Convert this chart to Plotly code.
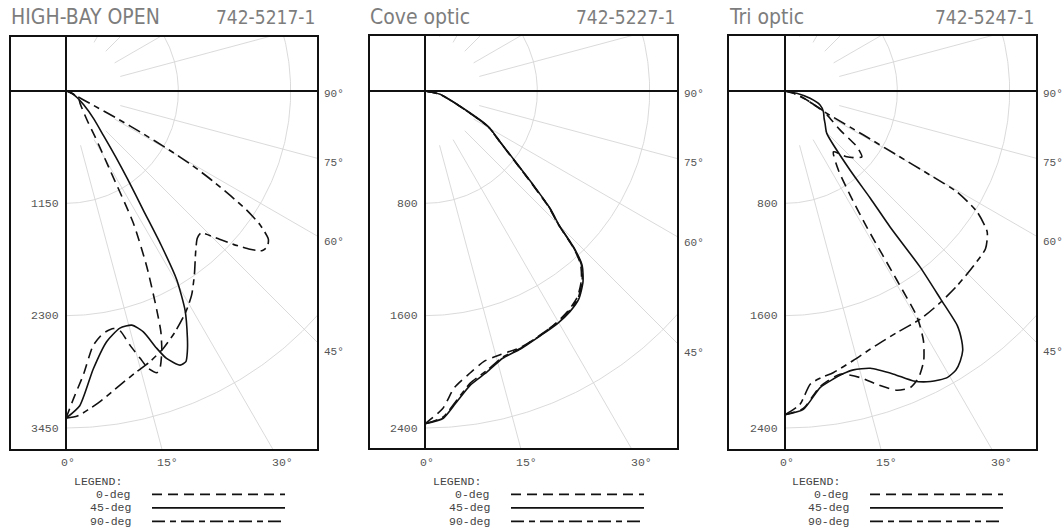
import numpy as np
import plotly.graph_objects as go

W, H = 1064, 529

# ------------------------------------------------------------------ data
# Panel 1 : HIGH-BAY OPEN 742-5217-1  (candela vs vertical angle, deg)
HB_RINGS = [1150, 2300, 3450]
HB_0_ANG = [0, 1.4, 3.5, 6.1, 8.75, 11.3, 12.7, 14.1, 15.5, 16.5, 17.9, 18.7, 20.2, 21.5,
            22.5, 24.7, 27.0, 29.1, 32.4, 35.9, 42.0, 48.7, 55, 65, 75, 90]
HB_0_CD = [3350, 3150, 2910, 2620, 2510, 2480, 2515, 2680, 2840, 2960, 3030, 3000, 2840, 2650,
           2430, 1980, 1520, 926, 554, 367, 250, 191, 165, 100, 40, 0]
HB_45_ANG = [0, 2.5, 5.6, 9.2, 12.8, 15.7, 17.8, 19.4, 20.6, 22.6, 23.9, 25.0, 26.2, 28.5,
             30.4, 31.7, 33.0, 35.0, 37.0, 40.0, 45.0, 52.0, 62.0, 72.0, 90.0]
HB_45_CD = [3350, 3225, 2860, 2600, 2490, 2490, 2590, 2790, 2925, 3040, 3030, 2940, 2815, 2555,
            2240, 1850, 1450, 1100, 850, 600, 400, 230, 110, 40, 0]
HB_90_ANG = [0, 2, 4, 6.5, 10.4, 14.1, 17.2, 20.7, 24.4, 28.5, 31.6, 34.9, 38.9, 41.7, 43.5,
             45.7, 47.5, 49.3, 50.8, 52.3, 53.8, 55.4, 56.6, 57.5, 58.5, 59.5, 60.3, 61.0,
             61.7, 62.5, 64, 70, 80, 90]
HB_90_CD = [3350, 3330, 3270, 3190, 3061, 2964, 2902, 2817, 2706, 2572, 2454, 2297, 2114, 2020,
            2005, 2158, 2324, 2484, 2587, 2606, 2567, 2415, 2216, 2000, 1760, 1500, 1200, 900,
            600, 300, 140, 50, 15, 0]

# Panel 2 : Cove optic 742-5227-1
CV_RINGS = [800, 1600, 2400]
CV_ANG = [0, 3.2, 5.6, 8.8, 12.4, 16.2, 20.3, 25.2, 29.5, 33.3, 36.5, 39.6, 42, 43.5, 45,
          46.8, 49, 51.7, 55.9, 60.6, 67.7, 77.7, 90]
CV_0_CD = [2370, 2265, 2125, 2040, 1970, 1952, 1950, 1925, 1898, 1866, 1825, 1748, 1655, 1530,
           1338, 1212, 1012, 825, 640, 512, 236, 106, 0]
CV_45_CD = [2370, 2334, 2235, 2118, 2050, 1982, 1959, 1927, 1907, 1880, 1842, 1765, 1673, 1545,
            1350, 1224, 1024, 834, 647, 519, 240, 110, 0]
CV_90_CD = [2370, 2325, 2225, 2105, 2040, 1975, 1955, 1922, 1902, 1873, 1834, 1756, 1664, 1538,
            1344, 1218, 1018, 830, 643, 515, 238, 108, 0]

# Panel 3 : Tri optic 742-5247-1
TR_RINGS = [800, 1600, 2400]
TR_0_ANG = [0, 3.3, 6.75, 11.0, 14.7, 17.4, 20.5, 22.9, 25.0, 27.2, 29.0, 30.3, 30.6, 31.0,
            32.0, 34.0, 38.5, 43.2, 46.5, 49.4, 52.2, 54.7, 58, 62, 66, 72, 80, 90]
TR_0_CD = [2305, 2265, 2120, 2055, 2110, 2189, 2275, 2293, 2252, 2161, 2034, 1866, 1568, 1131,
           880, 681, 554, 643, 690, 721, 649, 482, 390, 320, 200, 110, 45, 0]
TR_45_ANG = [0, 3.3, 6.75, 9.5, 11.7, 13.8, 17.1, 21.0, 23.9, 26.6, 29.5, 31.5, 33.0, 34.4,
             35.3, 36.3, 36.8, 37.5, 37.7, 38.5, 39.4, 44.6, 51, 55, 61.6, 68.2, 73.7, 78.9, 90]
TR_45_CD = [2305, 2271, 2127, 2080, 2055, 2045, 2066, 2160, 2259, 2314, 2345, 2330, 2292, 2240,
            2178, 2073, 1853, 1583, 1226, 976, 731, 424, 367, 340, 311, 269, 186, 85, 0]
TR_90_ANG = [0, 2.75, 4.9, 7.0, 9.8, 14.2, 19.5, 24.9, 30.7, 36.3, 41.5, 47.3, 51.8, 55.1,
             57.8, 59.6, 59.9, 60.2, 60.7, 61.9, 67.5, 74.5, 90]
TR_90_CD = [2305, 2234, 2096, 2060, 2034, 1980, 1925, 1896, 1889, 1869, 1851, 1831, 1817, 1756,
            1618, 1422, 1197, 919, 641, 338, 168, 62, 0]

ANGLE_TICKS_BOTTOM = [0, 15, 30]
ANGLE_TICKS_RIGHT = [90, 75, 60, 45]
LEGEND_LABELS = ["0-deg", "45-deg", "90-deg"]

# ------------------------------------------------------------------ styles
DASH = {"0-deg": "10px,6px", "45-deg": "solid", "90-deg": "13px,5px,6px,5px"}
GRID_COLOR = "#d6d6d6"
INK = "#111111"
MONO = "Liberation Mono, DejaVu Sans Mono, monospace"
TITLE_FONT = "Liberation Sans Narrow, DejaVu Sans Condensed, Arial Narrow, sans-serif"
TITLE_COLOR = "#7d7d7d"
TICK_COLOR = "#555555"
RING_PX = 337.0

PANELS = [
    dict(title="HIGH-BAY OPEN", code="742-5217-1", rings=HB_RINGS,
         frame=(10, 36, 318, 450), origin=(66, 91),
         series=[("0-deg", HB_0_ANG, HB_0_CD), ("45-deg", HB_45_ANG, HB_45_CD),
                 ("90-deg", HB_90_ANG, HB_90_CD)]),
    dict(title="Cove optic", code="742-5227-1", rings=CV_RINGS,
         frame=(369, 35, 678, 449), origin=(425, 91),
         series=[("0-deg", CV_ANG, CV_0_CD), ("45-deg", CV_ANG, CV_45_CD),
                 ("90-deg", CV_ANG, CV_90_CD)]),
    dict(title="Tri optic", code="742-5247-1", rings=TR_RINGS,
         frame=(728, 35, 1037, 450), origin=(785, 91),
         series=[("0-deg", TR_0_ANG, TR_0_CD), ("45-deg", TR_45_ANG, TR_45_CD),
                 ("90-deg", TR_90_ANG, TR_90_CD)]),
]


def px(x):
    return x / W


def py(y):
    return 1 - y / H


def polar_xy(ang, cd):
    a = np.radians(np.asarray(ang, dtype=float))
    r = np.asarray(cd, dtype=float)
    return r * np.sin(a), -r * np.cos(a)


fig = go.Figure()
shapes, annos = [], []
layout_axes = {}

for i, p in enumerate(PANELS):
    k = "" if i == 0 else str(i + 1)
    L, T, R, B = p["frame"]
    ox, oy = p["origin"]
    rings = p["rings"]
    s = RING_PX / rings[-1]  # px per candela
    layout_axes["xaxis" + k] = dict(domain=[px(L), px(R)], range=[(L - ox) / s, (R - ox) / s],
                                    visible=False, fixedrange=True)
    layout_axes["yaxis" + k] = dict(domain=[py(B), py(T)], range=[-(B - oy) / s, (oy - T) / s],
                                    visible=False, fixedrange=True)
    xa, ya = "x" + k, "y" + k

    # grid: rings (right half) and rays every 15 deg
    gx, gy = [], []
    t = np.linspace(0, 180, 361)
    for r in rings:
        x, y = polar_xy(t, np.full_like(t, r))
        gx += list(x) + [None]
        gy += list(y) + [None]
    for a in range(15, 180, 15):
        if a == 90:
            continue
        x, y = polar_xy([a, a], [rings[0] / 2, rings[-1] * 3])
        gx += list(x) + [None]
        gy += list(y) + [None]
    fig.add_trace(go.Scatter(x=gx, y=gy, mode="lines", xaxis=xa, yaxis=ya,
                             line=dict(color=GRID_COLOR, width=0.9), hoverinfo="skip",
                             showlegend=False))

    # curves
    for name, ang, cd in p["series"]:
        x, y = polar_xy(ang, cd)
        fig.add_trace(go.Scatter(x=x, y=y, mode="lines", xaxis=xa, yaxis=ya, name=name,
                                 line=dict(color=INK, width=1.6, dash=DASH[name],
                                           shape="spline", smoothing=0.6),
                                 showlegend=False))

    # frame and axes
    shapes.append(dict(type="rect", xref="paper", yref="paper", x0=px(L), x1=px(R),
                       y0=py(B), y1=py(T), line=dict(color=INK, width=2)))
    shapes.append(dict(type="line", xref="paper", yref="paper", x0=px(ox), x1=px(ox),
                       y0=py(B), y1=py(T), line=dict(color=INK, width=2)))
    shapes.append(dict(type="line", xref="paper", yref="paper", x0=px(L), x1=px(R),
                       y0=py(oy), y1=py(oy), line=dict(color=INK, width=2)))

    # titles
    annos.append(dict(x=px(L - 1), y=py(17.5), xref="paper", yref="paper", text=p["title"],
                      showarrow=False, xanchor="left", yanchor="middle",
                      font=dict(family=TITLE_FONT, size=21, color=TITLE_COLOR)))
    annos.append(dict(x=px(R - 1), y=py(17.5), xref="paper", yref="paper", text=p["code"],
                      showarrow=False, xanchor="right", yanchor="middle",
                      font=dict(family=TITLE_FONT, size=19, color=TITLE_COLOR)))

    # ring labels
    for r in rings:
        annos.append(dict(x=px(ox - 5), y=py(oy + r * s), xref="paper", yref="paper",
                          text=str(r), showarrow=False, xanchor="right", yanchor="middle",
                          font=dict(family=MONO, size=11.5, color=TICK_COLOR)))
    # bottom angle labels
    ylab = 462
    for a in ANGLE_TICKS_BOTTOM:
        xl = ox + (ylab - oy) * np.tan(np.radians(a))
        annos.append(dict(x=px(xl + 2), y=py(ylab), xref="paper", yref="paper",
                          text=f"{a}°", showarrow=False, xanchor="center", yanchor="middle",
                          font=dict(family=MONO, size=11.5, color=TICK_COLOR)))
    # right angle labels
    for a in ANGLE_TICKS_RIGHT:
        yl = oy + (R + 6 - ox) / np.tan(np.radians(a)) + 2.5
        annos.append(dict(x=px(R + 4), y=py(yl), xref="paper", yref="paper",
                          text=f"{a}°", showarrow=False, xanchor="left", yanchor="middle",
                          font=dict(family=MONO, size=11, color=TICK_COLOR)))

    # legend block
    annos.append(dict(x=px(L + 62), y=py(481), xref="paper", yref="paper", text="LEGEND:",
                      showarrow=False, xanchor="left", yanchor="middle",
                      font=dict(family=MONO, size=11.5, color="#444444")))
    for j, name in enumerate(LEGEND_LABELS):
        yy = 494.3 + j * 13.5
        annos.append(dict(x=px(L + 123), y=py(yy), xref="paper", yref="paper", text=name,
                          showarrow=False, xanchor="right", yanchor="middle",
                          font=dict(family=MONO, size=11.5, color="#444444")))
        shapes.append(dict(type="line", xref="paper", yref="paper", x0=px(L + 142),
                           x1=px(L + 275), y0=py(yy), y1=py(yy),
                           line=dict(color=INK, width=1.8, dash=DASH[name])))

fig.update_layout(width=W, height=H, margin=dict(l=0, r=0, t=0, b=0),
                  paper_bgcolor="white", plot_bgcolor="rgba(0,0,0,0)",
                  shapes=shapes, annotations=annos, **layout_axes)

fig.write_html("out.html", config={"displayModeBar": False},
               post_script="document.body.style.margin='0px';")
